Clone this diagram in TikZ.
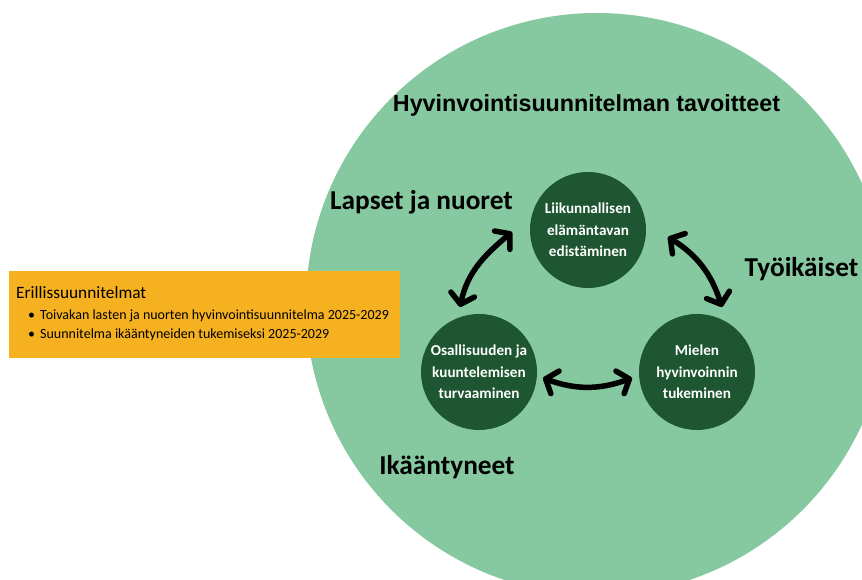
\documentclass[tikz,border=0pt]{standalone}
\usepackage{fontspec}
\setmainfont{Carlito}
\newfontfamily\titlefont{Liberation Sans}
\usetikzlibrary{arrows.meta}
\definecolor{biggreen}{HTML}{86C8A0}
\definecolor{darkgreen}{HTML}{1E5631}
\definecolor{boxorange}{HTML}{F5B120}
\begin{document}
\begin{tikzpicture}[x=1pt,y=1pt,
  goal/.style={circle, fill=darkgreen, minimum size=116pt, inner sep=0pt, text=white,
    font=\fontsize{15.2}{21.5}\selectfont\bfseries, align=center},
  grouplabel/.style={font=\fontsize{27.3}{31}\selectfont\bfseries, anchor=base, inner sep=0pt},
  arr/.style={line width=5.5pt, line cap=round,
    {Straight Barb[length=10pt,width=24pt,round]}-{Straight Barb[length=10pt,width=24pt,round]}},
  itemtext/.style={font=\fontsize{14}{16}\selectfont, anchor=base west, inner sep=0pt}
]
\useasboundingbox (0,0) rectangle (862,580);
\begin{scope}
  \clip (0,0) rectangle (862,580);
  \fill[biggreen] (597,276) circle (291);
\end{scope}

% separate plans box
\node[fill=boxorange, minimum width=391pt, minimum height=87pt, inner sep=0pt] (box) at (204.5,265.5) {};
\node[font=\fontsize{17.3}{20}\selectfont, anchor=base west, inner sep=0pt] (boxtitle) at (16,281) {Erillissuunnitelmat};
\node[itemtext] (b1) at (28,260) {\textbullet};
\node[itemtext] (i1) at (40,260) {Toivakan lasten ja nuorten hyvinvointisuunnitelma 2025-2029};
\node[itemtext] (b2) at (28,241) {\textbullet};
\node[itemtext] (i2) at (40,241) {Suunnitelma ikääntyneiden tukemiseksi 2025-2029};

% title and group labels
\node[font=\fontsize{23.3}{27}\selectfont\titlefont\bfseries, anchor=base, inner sep=0pt] (title) at (586.5,468) {Hyvinvointisuunnitelman tavoitteet};
\node[grouplabel] (lapset) at (421.5,370) {Lapset ja nuoret};
\node[grouplabel] (tyoikaiset) at (801.5,303) {Työikäiset};
\node[grouplabel] (ikaant) at (447,105) {Ikääntyneet};

% goal circles
\node[goal] (top) at (588,350) {Liikunnallisen\\elämäntavan\\edistäminen};
\node[goal] (left) at (479,208) {Osallisuuden ja\\kuuntelemisen\\turvaaminen};
\node[goal] (right) at (697,208) {Mielen\\hyvinvoinnin\\tukeminen};

% arrow end points
\coordinate (a1s) at (460,273);
\coordinate (a1e) at (512,348);
\coordinate (a2s) at (668,343);
\coordinate (a2e) at (722,273);
\coordinate (a3s) at (543,202);
\coordinate (a3e) at (632,202);

\draw[arr] (a1s) to[out=78, in=220] (a1e);
\draw[arr] (a2s) to[out=-32, in=108] (a2e);
\draw[arr] (a3s) to[out=-20, in=200] (a3e);
\end{tikzpicture}
\end{document}
